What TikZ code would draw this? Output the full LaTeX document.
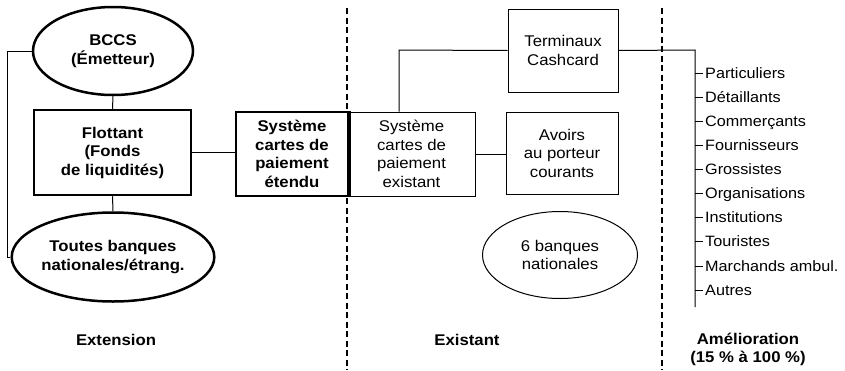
\documentclass[tikz,border=0pt]{standalone}
\usepackage{fontspec}
\setmainfont[FakeStretch=1.08]{Liberation Sans}
\usetikzlibrary{shapes.geometric}
\begin{document}
\begin{tikzpicture}[x=1pt,y=-1pt,
  txt/.style={font=\fontsize{15.5}{18.5}\selectfont, align=center, inner sep=0pt},
  btxt/.style={font=\fontsize{15.5}{18.5}\selectfont\bfseries},
  thickbox/.style={txt, draw, line width=2.5pt, fill=white, rectangle},
  thinbox/.style={txt, draw, line width=1pt, fill=white, rectangle},
  thickell/.style={txt, draw, line width=2.5pt, fill=white, ellipse},
  thinell/.style={txt, draw, line width=1pt, fill=white, ellipse},
  conn/.style={line width=1pt},
  divider/.style={line width=1.2pt, dash pattern=on 6pt off 3.5pt},
  item/.style={font=\fontsize{15}{16}\selectfont, anchor=west, inner sep=2pt, text height=10.5pt, text depth=0pt},
  lbl/.style={font=\fontsize{15.5}{18}\selectfont\bfseries, align=center}
]
\useasboundingbox (0,0) rectangle (845,370);

% dividers
\coordinate (d1t) at (347,8);
\coordinate (d1b) at (347,370);
\coordinate (d2t) at (662,8);
\coordinate (d2b) at (662,370);
\draw[divider] (d1t) -- (d1b);
\draw[divider] (d2t) -- (d2b);

% left column
\node[thickell, btxt, minimum width=160, minimum height=88] (bccs) at (113,51) {BCCS\\(Émetteur)};
\node[thickbox, btxt, minimum width=157, minimum height=85] (flot) at (112.5,152.5) {Flottant\\(Fonds\\de liquidités)};
\node[thickell, btxt, minimum width=159, minimum height=89] (banks) at (113,257) {Toutes banques\\nationales/étrang.};

\coordinate (b1) at (7,51);
\coordinate (b2) at (7,257);
\draw[conn] (bccs.west) -- (b1) -- (b2) -- (banks.west);
\draw[conn] (bccs.south) -- (flot.north);
\draw[conn] (flot.south) -- (banks.north);

% middle
\node[thickbox, btxt, minimum width=112, minimum height=84] (etendu) at (292,154) {Système\\cartes de\\paiement\\étendu};
\draw[conn] (flot.east) -- (flot.east -| etendu.west);
\node[thinbox, minimum width=127, minimum height=84] (exist) at (411.5,154) {Système\\cartes de\\paiement\\existant};
\draw[line width=2.5pt] (etendu.north east) -- (etendu.south east);

\node[thinbox, minimum width=110, minimum height=83] (term) at (563,50.5) {Terminaux\\Cashcard};
\node[thinbox, minimum width=112, minimum height=82] (avoirs) at (562,153) {Avoirs\\au porteur\\courants};
\node[thinell, minimum width=155, minimum height=87] (six) at (560,255) {6 banques\\nationales};

\coordinate (t1) at (399,50);
\draw[conn] (term.west) -- (t1) -- (t1 |- exist.north);
\draw[conn] (exist.east) -- (exist.east -| avoirs.west);

% right list
\coordinate (r1) at (695,50);
\coordinate (r2) at (695,307);
\draw[conn] (term.east) -- (r1) -- (r2);

\foreach \name/\yy/\t in {i1/73/Particuliers, i2/97/Détaillants, i3/121/Commerçants, i4/145/Fournisseurs, i5/169/Grossistes, i6/193/Organisations, i7/217/Institutions, i8/241/Touristes, i9/266/Marchands ambul., i10/290/Autres}{
  \node[item] (\name) at (703,\yy) {\t};
  \coordinate (c\name) at (695,\yy);
  \draw[conn] (c\name) -- (\name.west);
}

% bottom labels
\node[lbl] (lext) at (116,340) {Extension};
\node[lbl] (lexi) at (467,340) {Existant};
\node[lbl] (lame) at (748,349) {Amélioration\\(15 \% à 100 \%)};
\end{tikzpicture}
\end{document}
